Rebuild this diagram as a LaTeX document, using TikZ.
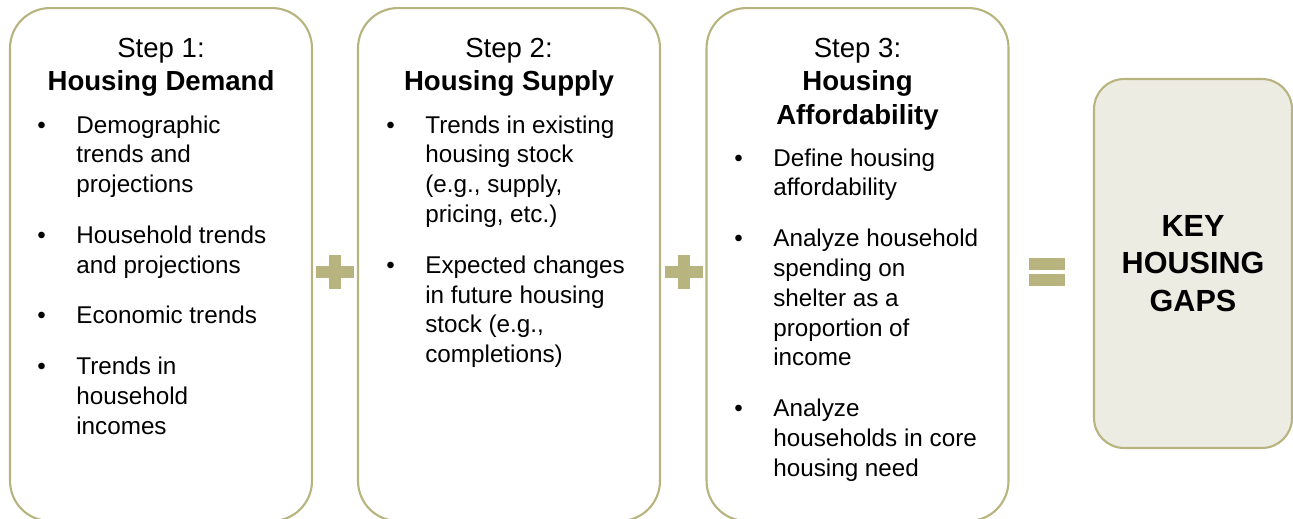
\documentclass[tikz,border=0pt]{standalone}
\usepackage{fontspec}
\setmainfont{Liberation Sans}
\usetikzlibrary{positioning}
\definecolor{khaki}{HTML}{B8B47F}
\definecolor{sand}{HTML}{EDECE3}

\newcommand{\bitem}[1]{\begin{tabular}[t]{@{}p{0.78cm}@{}l@{}}\textbullet & #1\end{tabular}}
\newcommand{\steptitle}[1]{\begin{tabular}[t]{@{}c@{}}#1\end{tabular}}

\begin{document}
\begin{tikzpicture}[
    x=0.02cm, y=-0.02cm,
    stepbox/.style={rectangle, rounded corners=0.8cm,
                    draw=khaki, line width=1.2pt, fill=white,
                    minimum width=6.04cm, minimum height=10.26cm},
    gapbox/.style={rectangle, rounded corners=0.6cm,
                   draw=khaki, line width=1.2pt, fill=sand,
                   minimum width=3.96cm, minimum height=7.38cm,
                   font=\fontsize{17.4}{21.5}\selectfont\bfseries, align=center},
    title/.style={anchor=base, inner sep=0pt, font=\fontsize{15.7}{19.3}\selectfont},
    itm/.style={anchor=base west, inner sep=0pt, font=\fontsize{13.8}{17}\selectfont},
    nxt/.style={below=0.40cm of #1.south west, anchor=north west},
    sym/.style={fill=khaki},
  ]
    \useasboundingbox (0,0) rectangle (1293,518);

    \node[stepbox] (box1) at (161,264.5) {};
    \node[stepbox] (box2) at (509,264.5) {};
    \node[stepbox] (box3) at (857.5,264.5) {};
    \node[gapbox]  (gaps) at (1193,263.5) {KEY\\HOUSING\\GAPS};

    % step 1
    \node[title] (t1) at (161,57) {\steptitle{Step 1:\\ \bfseries Housing Demand}};
    \node[itm] (d1) at (37,133) {\bitem{Demographic\\ & trends and\\ & projections}};
    \node[itm, nxt=d1] (d2) {\bitem{Household trends\\ & and projections}};
    \node[itm, nxt=d2] (d3) {\bitem{Economic trends}};
    \node[itm, nxt=d3] (d4) {\bitem{Trends in\\ & household\\ & incomes}};

    % step 2
    \node[title] (t2) at (509,57) {\steptitle{Step 2:\\ \bfseries Housing Supply}};
    \node[itm] (s1) at (386,133) {\bitem{Trends in existing\\ & housing stock\\ & (e.g., supply,\\ & pricing, etc.)}};
    \node[itm, nxt=s1] (s2) {\bitem{Expected changes\\ & in future housing\\ & stock (e.g.,\\ & completions)}};

    % step 3
    \node[title] (t3) at (857.5,57) {\steptitle{Step 3:\\ \bfseries Housing\\ \bfseries Affordability}};
    \node[itm] (a1) at (734,166) {\bitem{Define housing\\ & affordability}};
    \node[itm, nxt=a1] (a2) {\bitem{Analyze household\\ & spending on\\ & shelter as a\\ & proportion of\\ & income}};
    \node[itm, nxt=a2] (a3) {\bitem{Analyze\\ & households in core\\ & housing need}};

    % plus and equals signs
    \coordinate (p1) at (335,272);
    \coordinate (p2) at (684,272);
    \coordinate (eq) at (1047,272);
    \foreach \c in {p1,p2} {
      \fill[sym] (\c) ++(-19,-6) rectangle ++(38,12);
      \fill[sym] (\c) ++(-6,-17) rectangle ++(12,34);
    }
    \fill[sym] (eq) ++(-18,-14) rectangle ++(36,12);
    \fill[sym] (eq) ++(-18,2) rectangle ++(36,12);
  \end{tikzpicture}
\end{document}
